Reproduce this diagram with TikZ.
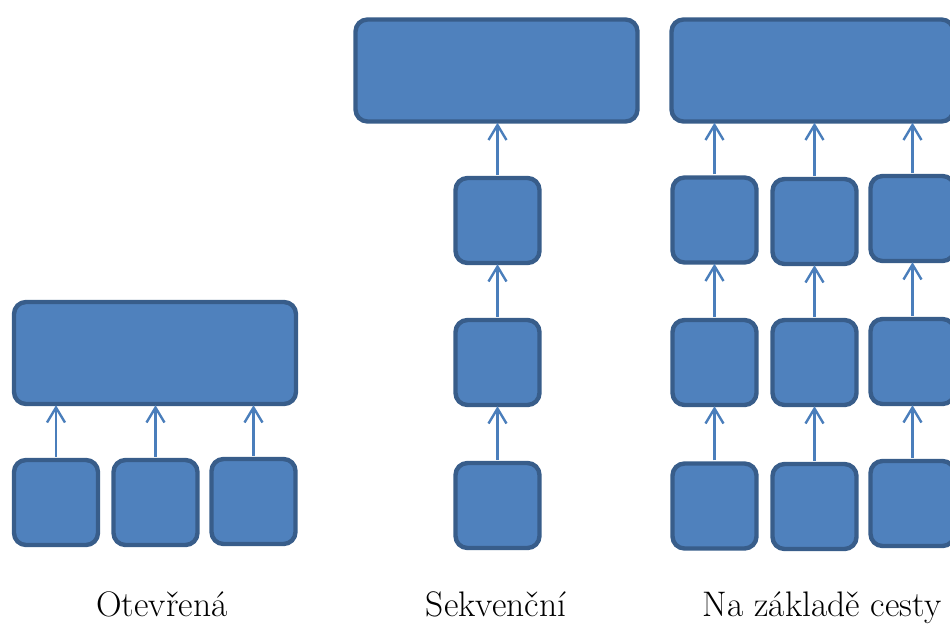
\documentclass[tikz,border=0pt]{standalone}
\usepackage{fontspec}
\usetikzlibrary{arrows.meta}
\definecolor{boxfill}{HTML}{4F81BD}
\definecolor{boxline}{HTML}{385D8A}
\definecolor{arrowcol}{HTML}{4A7EBB}
\begin{document}
\begin{tikzpicture}[x=1pt,y=-1pt,
  block/.style={draw=boxline, fill=boxfill, line width=4.4pt, rounded corners=12pt,
    rectangle, inner sep=0pt},
  wide/.style={block, minimum width=282pt, minimum height=102pt},
  small/.style={block, minimum width=84pt, minimum height=85pt},
  flow/.style={draw=arrowcol, line width=2.4pt,
    -{Straight Barb[length=15pt,width=18pt,line width=2.4pt]},
    shorten >=-1pt, shorten <=1pt},
  caption/.style={anchor=base, font=\fontsize{35.5}{42}\selectfont, inner sep=0pt}]
\useasboundingbox (0,0) rectangle (950,624);
\clip (0,0) rectangle (950,624);

% Open structure
\node[wide]  (oT) at (155,353) {};
\node[small] (o1) at (56,502.5) {};
\node[small] (o2) at (155.5,502.5) {};
\node[small] (o3) at (253.5,501.5) {};
\foreach \n in {o1,o2,o3}
  \draw[flow] (\n.north) -- (\n.north |- oT.south);

% Sequential structure
\node[wide]  (sT) at (496.5,70.5) {};
\node[small] (s1) at (497.5,220.5) {};
\node[small] (s2) at (497.5,362.5) {};
\node[small] (s3) at (497.5,505.5) {};
\draw[flow] (s3.north) -- (s3.north |- s2.south);
\draw[flow] (s2.north) -- (s2.north |- s1.south);
\draw[flow] (s1.north) -- (s1.north |- sT.south);

% Path-based structure
\node[wide]  (pT) at (812.5,70.5) {};
\node[small] (p11) at (714.5,220) {};
\node[small] (p12) at (814.5,221.5) {};
\node[small] (p13) at (912.5,218.5) {};
\node[small] (p21) at (714.5,362.5) {};
\node[small] (p22) at (814.5,362.5) {};
\node[small] (p23) at (912.5,361.5) {};
\node[small] (p31) at (714.5,506) {};
\node[small] (p32) at (814.5,506.5) {};
\node[small] (p33) at (912.5,503.5) {};
\foreach \c in {1,2,3}{
  \draw[flow] (p3\c.north) -- (p3\c.north |- p2\c.south);
  \draw[flow] (p2\c.north) -- (p2\c.north |- p1\c.south);
  \draw[flow] (p1\c.north) -- (p1\c.north |- pT.south);
}

% Captions
\node[caption] (cO) at (162,616.5) {Otevřená};
\node[caption] (cS) at (496,616.5) {Sekvenční};
\node[caption] (cP) at (822,616.5) {Na základě cesty};
\end{tikzpicture}
\end{document}
